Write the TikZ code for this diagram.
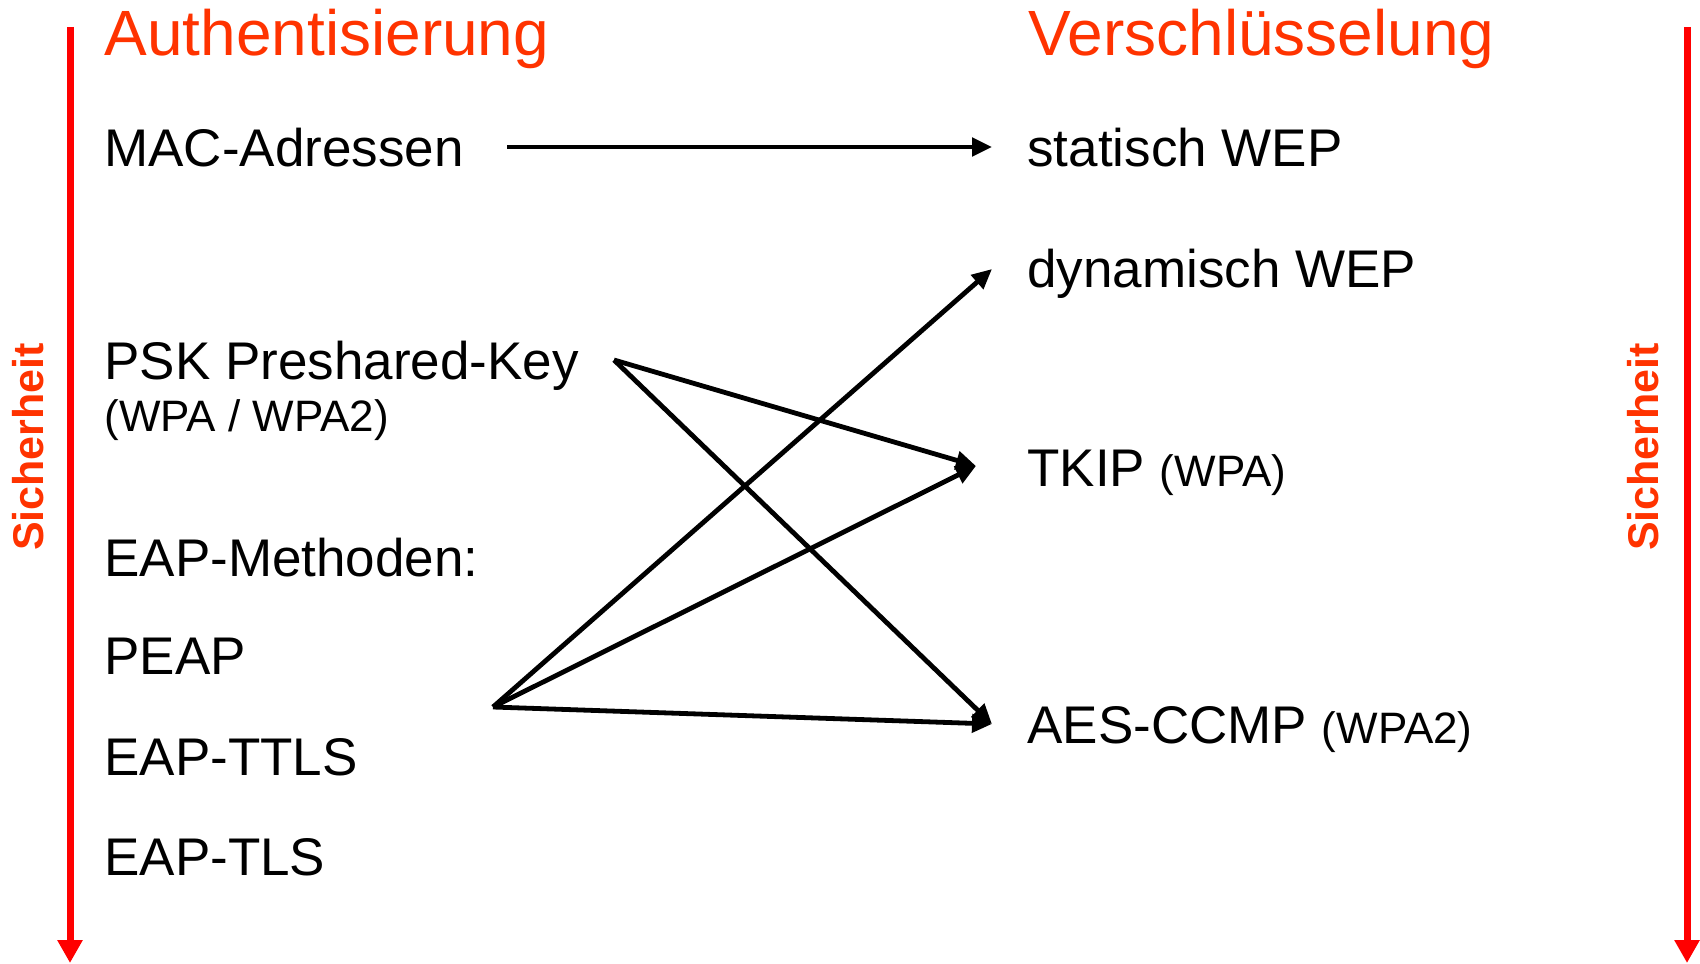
\documentclass[tikz,border=0pt]{standalone}
\usepackage{fontspec}
\setmainfont{Liberation Sans}
\usetikzlibrary{arrows.meta}
\definecolor{headred}{HTML}{FF3300}
\definecolor{linered}{HTML}{FF0000}
\newcommand{\smalltxt}{\fontsize{22}{25}\selectfont}
\begin{document}
\begin{tikzpicture}[x=0.5pt,y=-0.5pt,
  lbl/.style={anchor=base west,inner sep=0pt,font=\fontsize{26.5}{30}\selectfont},
  head/.style={anchor=base west,inner sep=0pt,text=headred,font=\fontsize{32}{36}\selectfont},
  sich/.style={rotate=90,inner sep=0pt,text=headred,font=\bfseries\fontsize{21.5}{24}\selectfont},
  conn/.style={line width=2.4pt,-{Triangle[length=10pt,width=9pt]}},
  secarrow/.style={linered,line width=3.5pt,-{Triangle[length=11.5pt,width=12pt]}}
]
\useasboundingbox (0,0) rectangle (1700,963);

% security arrows
\coordinate (lt) at (70,27);
\coordinate (lb) at (70,963);
\coordinate (rt) at (1687,27);
\coordinate (rb) at (1687,963);
\draw[secarrow] (lt) -- (lb);
\draw[secarrow] (rt) -- (rb);
\node[sich] (sichL) at (28,447) {Sicherheit};
\node[sich] (sichR) at (1643,447) {Sicherheit};

% headings
\node[head] (auth) at (104,56) {Authentisierung};
\node[head] (enc) at (1028,56) {Verschlüsselung};

% left column
\node[lbl] (mac) at (104,166) {MAC-Adressen};
\node[lbl] (psk) at (104,379) {PSK Preshared-Key};
\node[lbl,font=\smalltxt] (pskwpa) at (104,431) {(WPA / WPA2)};
\node[lbl] (eapm) at (104,576) {EAP-Methoden:};
\node[lbl] (peap) at (104,674) {PEAP};
\node[lbl] (ttls) at (104,775) {EAP-TTLS};
\node[lbl] (tls) at (104,875) {EAP-TLS};

% right column
\node[lbl] (swep) at (1027,166) {statisch WEP};
\node[lbl] (dwep) at (1027,287) {dynamisch WEP};
\node[lbl] (tkip) at (1027,486) {TKIP {\smalltxt(WPA)}};
\node[lbl] (aes) at (1027,743) {AES-CCMP {\smalltxt(WPA2)}};

% connector end points
\coordinate (macOut) at (507,147);
\coordinate (pskOut) at (614,360);
\coordinate (eapOut) at (493,707);
\coordinate (swepIn) at (992,147);
\coordinate (dwepIn) at (992,269);
\coordinate (tkipIn) at (976,466);
\coordinate (aesIn) at (992,724);

\draw[conn] (macOut) -- (swepIn);
\draw[conn] (pskOut) -- (tkipIn);
\draw[conn] (pskOut) -- (aesIn);
\draw[conn] (eapOut) -- (dwepIn);
\draw[conn] (eapOut) -- (tkipIn);
\draw[conn] (eapOut) -- (aesIn);
\end{tikzpicture}
\end{document}
